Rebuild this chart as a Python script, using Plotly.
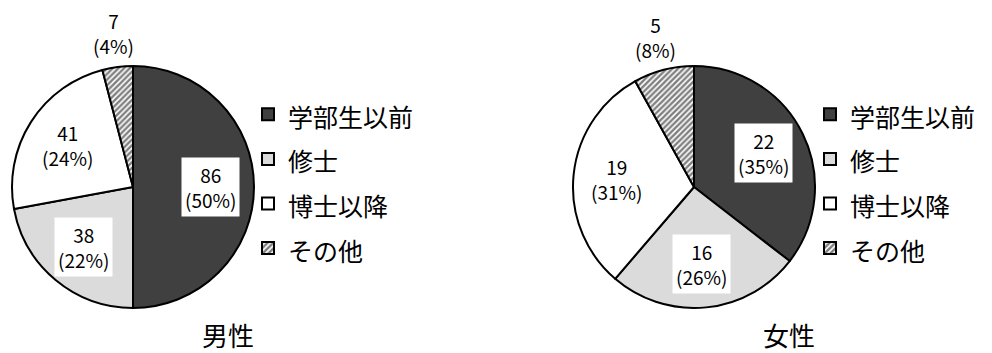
import math
import plotly.graph_objects as go

# Survey counts by career stage, split by gender
categories = ["学部生以前", "修士", "博士以降", "その他"]
male_counts = [86, 38, 41, 7]
female_counts = [22, 16, 19, 5]
group_titles = ["男性", "女性"]

FONT = "Noto Sans CJK JP"
W, H = 992, 353

slice_colors = ["#404040", "#ffffff", "#ffffff", "#ffffff"]
patterns = dict(
    shape=["", ".", "", "/"],
    fgcolor=["#404040", "#5a5a5a", "#ffffff", "#000000"],
    bgcolor=["#404040", "#ffffff", "#ffffff", "#ffffff"],
    size=[6, 2, 6, 4],
    solidity=[0.5, 0.5, 0.5, 0.6],
    fillmode="overlay",
)

# pie domains (paper coords), square in pixels
domains = [
    dict(x=[12 / W, 254 / W], y=[1 - 308 / H, 1 - 66 / H]),
    dict(x=[573 / W, 815 / W], y=[1 - 308 / H, 1 - 66 / H]),
]
legend_names = ["legend", "legend2"]
# each pie keeps its own legend entries (distinct label markup avoids merging)
label_styles = ["font-size:25px", "font-size:25px;"]

fig = go.Figure()
annotations = []

for series, dom, lg, style, title in zip(
    [male_counts, female_counts], domains, legend_names, label_styles, group_titles
):
    fig.add_trace(go.Pie(
        labels=[f"<span style='{style}'>{c}</span>" for c in categories],
        values=series,
        sort=False,
        direction="clockwise",
        rotation=0,
        domain=dom,
        textinfo="none",
        hoverinfo="label+value+percent",
        marker=dict(colors=slice_colors, pattern=patterns,
                    line=dict(color="#000000", width=2)),
        legend=lg,
    ))
    total = sum(series)
    cx = (dom["x"][0] + dom["x"][1]) / 2
    cy = (dom["y"][0] + dom["y"][1]) / 2
    r_px = (dom["x"][1] - dom["x"][0]) * W / 2
    cum = 0
    for v in series:
        frac = v / total
        mid = (cum + frac / 2) * 2 * math.pi
        cum += frac
        outside = frac < 0.1
        rr = r_px * (1.28 if outside else 0.64)
        ax = cx + rr * math.sin(mid) / W
        ay = cy + rr * math.cos(mid) / H
        annotations.append(dict(
            x=ax, y=ay, xref="paper", yref="paper",
            text=f"{v}<br>({round(frac * 100)}%)",
            showarrow=False,
            font=dict(family=FONT, size=19, color="#000000"),
            bgcolor="rgba(0,0,0,0)" if outside else "#ffffff",
            borderpad=3,
            xanchor="center", yanchor="middle",
        ))
    annotations.append(dict(
        x=cx + 95 / W, y=1 - 334 / H, xref="paper", yref="paper",
        text=title, showarrow=False,
        font=dict(family=FONT, size=26, color="#000000"),
        xanchor="center", yanchor="middle",
    ))

legend_common = dict(
    font=dict(family=FONT, size=32, color="#000000"),
    bgcolor="rgba(0,0,0,0)",
    borderwidth=0,
    xanchor="left", yanchor="top",
    itemwidth=30,
    traceorder="normal",
)

fig.update_layout(
    width=W, height=H,
    margin=dict(l=0, r=0, t=0, b=0),
    paper_bgcolor="#ffffff",
    plot_bgcolor="#ffffff",
    font=dict(family=FONT, color="#000000"),
    showlegend=True,
    legend=dict(x=248 / W, y=1 - 87 / H, **legend_common),
    legend2=dict(x=810 / W, y=1 - 87 / H, **legend_common),
    annotations=annotations,
)

fig.write_html("out.html")
